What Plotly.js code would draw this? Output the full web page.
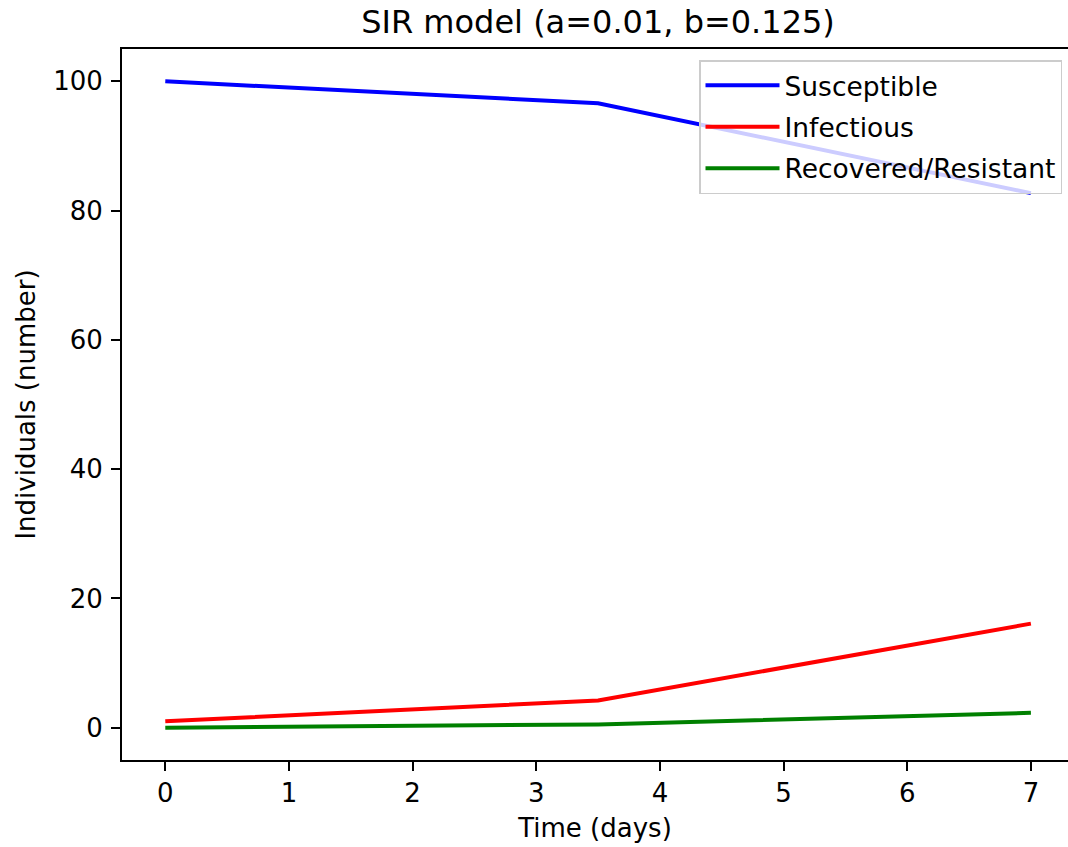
<!DOCTYPE html>
<html>
<head>
<meta charset="utf-8">
<script src="https://cdn.plot.ly/plotly-3.0.1.min.js"></script>
<style>
html,body{margin:0;padding:0;overflow:hidden;background:#fff;}
#chart{width:1068px;height:847px;}
</style>
</head>
<body>
<div id="chart"></div>
<script>
const time = [0, 3.5, 7];
const susceptible = [100, 96.6, 82.7];
const infectious = [1.0, 4.2, 16.1];
const recovered = [0.0, 0.5, 2.3];
const seriesNames = ["Susceptible", "Infectious", "Recovered/Resistant"];
const titleText = "SIR model (a=0.01, b=0.125)";
const xLabel = "Time (days)";
const yLabel = "Individuals (number)";

const font = "DejaVu Sans, sans-serif";
const textColor = "#000000";
const colors = ["#0000ff", "#ff0000", "#008000"];
const ys = [susceptible, infectious, recovered];

const traces = ys.map((y, i) => ({
  x: time, y: y, type: "scatter", mode: "lines",
  name: seriesNames[i], legendgroup: "g" + i,
  line: {color: colors[i], width: 4}
}));

const axisCommon = {
  showline: true, linecolor: "#000", linewidth: 2,
  ticks: "outside", ticklen: 9, tickwidth: 2, tickcolor: "#000",
  showgrid: false, zeroline: false,
  tickfont: {family: font, size: 26, color: textColor}
};

// The reference figure is cropped at its right edge: the plot area runs past the image.
const layout = {
  width: 1068, height: 847,
  margin: {l: 122, r: 0, t: 49, b: 87},
  paper_bgcolor: "#fff", plot_bgcolor: "#fff",
  font: {family: font, color: textColor},
  title: {text: titleText, font: {family: font, size: 32, color: textColor},
          x: 598 / 1068, xanchor: "center", xref: "container", y: 1 - 22 / 847, yanchor: "middle"},
  xaxis: Object.assign({}, axisCommon, {
    range: [-0.35, 7.30], tickvals: [0,1,2,3,4,5,6,7], mirror: true,
    ticklabelstandoff: 0,
    title: {text: xLabel, font: {family: font, size: 26, color: textColor}, standoff: 12}
  }),
  yaxis: Object.assign({}, axisCommon, {
    range: [-5, 105], tickvals: [0,20,40,60,80,100],
    ticklabelstandoff: 3,
    title: {text: yLabel, font: {family: font, size: 26, color: textColor}, standoff: 10}
  }),
  showlegend: true,
  legend: {
    x: (1062 - 122) / 946, xanchor: "right", y: (760 - 60) / 711, yanchor: "top",
    bgcolor: "rgba(255,255,255,0.8)", bordercolor: "#cccccc", borderwidth: 1.5,
    font: {family: font, size: 26.5, color: textColor},
    tracegroupgap: 4, itemwidth: 74
  }
};

Plotly.newPlot("chart", traces, layout, {displayModeBar: false, staticPlot: true});
</script>
</body>
</html>
